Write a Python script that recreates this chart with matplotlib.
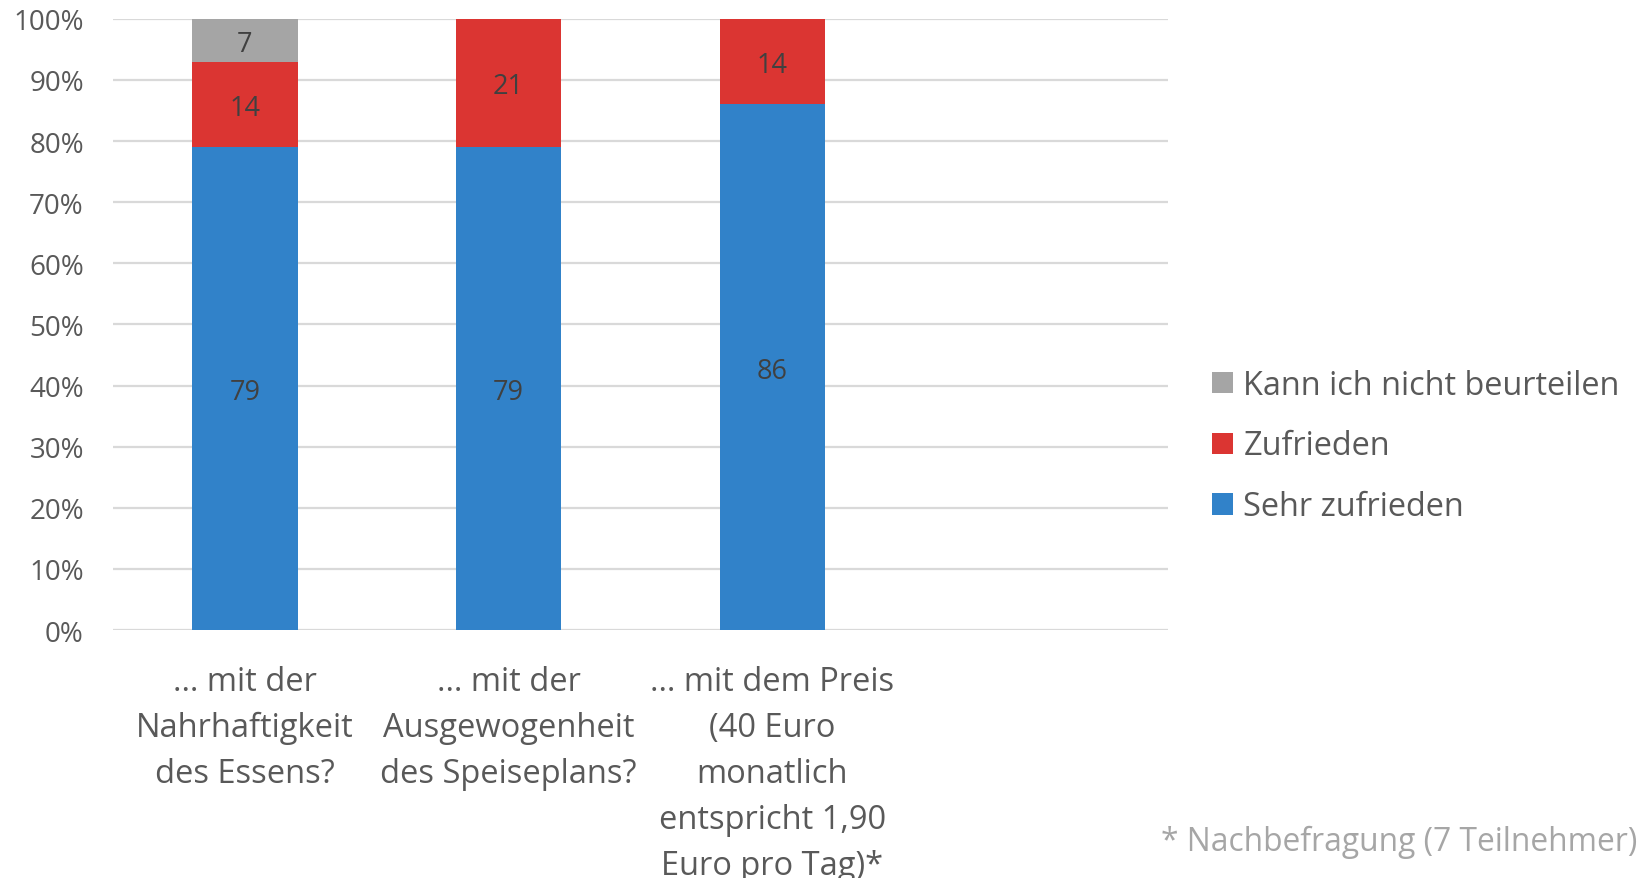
import matplotlib
matplotlib.use("Agg")
import matplotlib.pyplot as plt
import numpy as np

categories = ["… mit der\nNahrhaftigkeit\ndes Essens?",
              "… mit der\nAusgewogenheit\ndes Speiseplans?",
              "… mit dem Preis\n(40 Euro\nmonatlich\nentspricht 1,90\nEuro pro Tag)*"]
series_names = ["Sehr zufrieden", "Zufrieden", "Kann ich nicht beurteilen"]
sehr_zufrieden = [79, 79, 86]
zufrieden = [14, 21, 14]
nicht_beurteilen = [7, 0, 0]
yticks = [0, 10, 20, 30, 40, 50, 60, 70, 80, 90, 100]
footnote = "* Nachbefragung (7 Teilnehmer)"

colors = ["#3182C9", "#DB3532", "#A5A5A5"]
plt.rcParams['font.family'] = ['Open Sans', 'DejaVu Sans']

fig = plt.figure(figsize=(16.38, 8.79), dpi=100)
ax = fig.add_axes([0.069, 0.282, 0.644, 0.6955])

x = np.arange(len(categories))
values = [sehr_zufrieden, zufrieden, nicht_beurteilen]
bottom = np.zeros(len(categories))
handles = []
for vals, name, c in zip(values, series_names, colors):
    vals = np.array(vals, dtype=float)
    b = ax.bar(x, vals, 0.4, bottom=bottom, color=c, label=name, zorder=2)
    handles.append(b)
    for xi, v, bt in zip(x, vals, bottom):
        if v > 0:
            ax.text(xi, bt + v / 2, f"{int(v)}", ha="center", va="center_baseline",
                    fontsize=19.5, color="#404040", zorder=3)
    bottom += vals

ax.set_xlim(-0.5, 3.5)
ax.set_ylim(0, 100)
ax.set_yticks(yticks)
ax.set_yticklabels([f"{t}%" for t in yticks])
ax.set_xticks(x)
ax.set_xticklabels(categories, linespacing=1.52)
ax.tick_params(axis="y", length=0, pad=21, labelsize=20, labelcolor="#595959")
ax.tick_params(axis="x", length=0, pad=25, labelsize=23.5, labelcolor="#595959")
for lbl in ax.get_xticklabels():
    lbl.set_va("top")
ax.grid(axis="y", color="#D9D9D9", linewidth=1.6, zorder=0)
for s in ax.spines.values():
    s.set_visible(False)

leg = fig.legend(handles[::-1], series_names[::-1], loc="center left",
                 bbox_to_anchor=(0.7223, 0.4915), frameon=False, fontsize=23.4,
                 handlelength=0.62, handleheight=0.62, handletextpad=0.33,
                 labelspacing=0.86, labelcolor="#595959")

fig.text(0.709, 1 - 842 / 879, footnote, fontsize=22.9, color="#A6A6A6",
         ha="left", va="center")

fig.savefig("out.png", dpi=100)
